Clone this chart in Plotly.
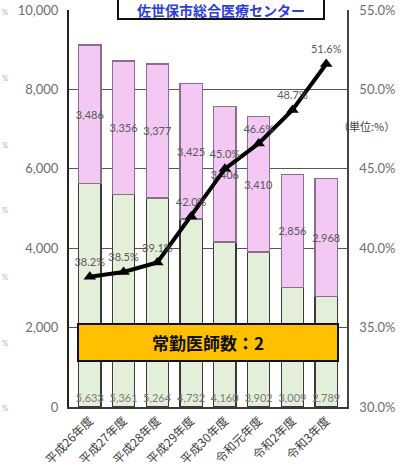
import plotly.graph_objects as go

categories = ["平成26年度", "平成27年度", "平成28年度", "平成29年度", "平成30年度", "令和元年度", "令和2年度", "令和3年度"]
green_vals = [5633, 5361, 5264, 4732, 4160, 3902, 3009, 2789]
pink_vals = [3486, 3356, 3377, 3425, 3406, 3410, 2856, 2968]
ratio_vals = [0.382, 0.385, 0.391, 0.420, 0.450, 0.466, 0.487, 0.516]
left_ticks = [0, 2000, 4000, 6000, 8000, 10000]
right_ticks = [0.30, 0.35, 0.40, 0.45, 0.50, 0.55]

W, H = 401, 471
ML, MR, MT, MB = 69, 54, 10, 64
PW = W - ML - MR
PH = H - MT - MB

def px_x(p):
    return (p - ML) / PW

def px_y(p):
    return 1 - (p - MT) / PH

NUM_FONT = "Lato, 'Noto Sans CJK JP', sans-serif"
JP_FONT = "'Noto Sans CJK JP', sans-serif"

fig = go.Figure()

fig.add_trace(go.Bar(
    x=categories, y=green_vals,
    marker=dict(color="#E4EFDA", line=dict(color="#3A3A3A", width=1.3)),
    text=[f"{v:,}" for v in green_vals],
    textposition="inside", insidetextanchor="start", constraintext="none",
    textfont=dict(color="#7A7A7A", size=11, family=NUM_FONT),
    textangle=0,
    showlegend=False, hoverinfo="skip",
))
fig.add_trace(go.Bar(
    x=categories, y=pink_vals,
    marker=dict(color="#F3C8F3", line=dict(color="#8C6E8C", width=1.3)),
    text=[f"{v:,}" for v in pink_vals],
    textposition="inside", insidetextanchor="middle", constraintext="none",
    textfont=dict(color="#595959", size=11, family=NUM_FONT),
    textangle=0,
    showlegend=False, hoverinfo="skip",
))
fig.add_trace(go.Scatter(
    x=categories, y=ratio_vals, yaxis="y2",
    mode="lines+markers+text",
    line=dict(color="#000000", width=4),
    marker=dict(symbol="triangle-up", size=11, color="#000000"),
    text=[f"{v*100:.1f}%" for v in ratio_vals],
    textposition="top center",
    textfont=dict(color="#595959", size=11, family=NUM_FONT),
    showlegend=False, hoverinfo="skip", cliponaxis=False,
))

fig.update_layout(
    width=W, height=H,
    margin=dict(l=ML, r=MR, t=MT, b=MB, autoexpand=False),
    paper_bgcolor="white", plot_bgcolor="white",
    barmode="stack", bargap=0.34,
    xaxis=dict(
        tickangle=-45, tickfont=dict(size=12, color="#404040", family=JP_FONT),
        showline=True, linecolor="#3A3A3A", linewidth=2, mirror=False,
        ticks="", showgrid=False, automargin=False,
    ),
    yaxis=dict(
        range=[0, 10000], tickvals=left_ticks, tickformat=",d",
        tickfont=dict(size=13, color="#6E6E6E", family=NUM_FONT),
        showline=True, linecolor="#222222", linewidth=2,
        showgrid=True, gridcolor="#555555", gridwidth=1.2,
        ticks="", ticklabelstandoff=6, zeroline=False, automargin=False,
    ),
    yaxis2=dict(
        overlaying="y", side="right", range=[0.30, 0.55], tickvals=right_ticks,
        tickformat=".1%", tickfont=dict(size=13, color="#6E6E6E", family=NUM_FONT),
        showline=True, linecolor="#444444", linewidth=1.5, showgrid=False,
        ticks="", ticklabelstandoff=8, zeroline=False, automargin=False,
    ),
    shapes=[
        dict(type="rect", xref="paper", yref="paper",
             x0=px_x(78), x1=px_x(338), y0=px_y(361), y1=px_y(324),
             fillcolor="#FFC000", line=dict(color="#111111", width=2)),
        dict(type="rect", xref="paper", yref="paper",
             x0=px_x(118), x1=px_x(324), y0=px_y(19), y1=px_y(-6),
             fillcolor="white", line=dict(color="#111111", width=2)),
    ],
    annotations=[
        dict(text="<b>常勤医師数：2</b>", xref="paper", yref="paper",
             x=px_x(208), y=px_y(342), showarrow=False,
             font=dict(size=17, color="#111111", family=JP_FONT), xanchor="center", yanchor="middle"),
        dict(text="<b>佐世保市総合医療センター</b>", xref="paper", yref="paper",
             x=px_x(221), y=px_y(10), showarrow=False,
             font=dict(size=14, color="#2E3DD6", family=JP_FONT), xanchor="center", yanchor="middle"),
        dict(text="（単位:%）", xref="paper", yref="paper",
             x=px_x(366), y=px_y(126), showarrow=False,
             font=dict(size=11, color="#444444", family=JP_FONT), xanchor="center", yanchor="middle"),
    ] + [
        dict(text="%", xref="paper", yref="paper", x=px_x(0), y=px_y(yy), showarrow=False,
             font=dict(size=8, color="#B5B5B5", family=NUM_FONT), xanchor="left", yanchor="middle")
        for yy in [12, 78, 145, 210, 277, 343, 408]
    ],
)

fig.write_html("out.html")
